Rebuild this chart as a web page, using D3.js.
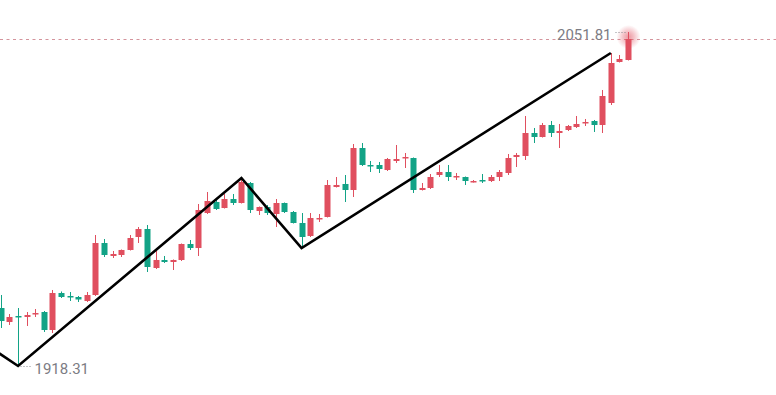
<!DOCTYPE html>
<html>
<head>
<meta charset="utf-8">
<script src="https://cdn.jsdelivr.net/npm/d3@7"></script>
<style>
  html, body { margin: 0; padding: 0; background: #fff; }
  svg { display: block; }
</style>
</head>
<body>
<div id="chart"></div>
<script>
// candle values (one per bar, left to right)
const opens = [1941.49, 1935.90, 1938.30, 1937.90, 1938.89, 1939.89, 1932.70, 1947.49, 1946.29, 1945.89,
  1944.29, 1946.69, 1967.47, 1962.28, 1962.68, 1964.68, 1969.87, 1973.07, 1957.48, 1960.68,
  1959.88, 1960.68, 1967.07, 1965.47, 1979.46, 1983.86, 1981.46, 1985.06, 1983.46, 1991.45,
  1980.26, 1981.86, 1979.06, 1983.46, 1979.86, 1975.47, 1970.27, 1977.07, 1977.87, 1989.86,
  1991.06, 1988.66, 2005.44, 1998.65, 1998.65, 1996.65, 2000.25, 2001.25, 2001.45, 1988.66,
  1989.46, 1994.65, 1995.85, 1993.85, 1993.85, 1991.85, 1992.65, 1992.25, 1993.85, 1995.45,
  2001.85, 2002.25, 2011.44, 2009.84, 2014.64, 2011.44, 2012.64, 2013.84, 2015.24, 2016.24,
  2014.64, 2023.43, 2039.82, 2040.62];
const highs = [1946.69, 1939.09, 1941.49, 1939.89, 1941.09, 1940.29, 1948.69, 1948.09, 1947.89, 1946.29,
  1947.89, 1970.67, 1969.07, 1964.28, 1964.87, 1970.67, 1973.87, 1974.67, 1964.28, 1962.28,
  1960.88, 1967.27, 1968.67, 1983.06, 1987.86, 1984.66, 1987.06, 1987.06, 1993.45, 1991.85,
  1982.06, 1982.66, 1985.06, 1983.66, 1980.26, 1979.46, 1979.46, 1979.06, 1992.65, 1993.85,
  1994.65, 2007.04, 2007.44, 2000.25, 1999.85, 2001.45, 2006.64, 2003.45, 2001.65, 1991.45,
  1995.05, 1998.65, 1998.65, 1995.45, 1994.05, 1992.65, 1995.05, 1994.65, 1996.65, 2003.05,
  2003.45, 2018.24, 2013.44, 2015.44, 2016.24, 2015.04, 2014.64, 2018.24, 2017.04, 2016.64,
  2028.63, 2043.42, 2042.62, 2051.81];
const lows = [1933.50, 1934.70, 1918.31, 1934.30, 1937.90, 1931.90, 1931.50, 1945.49, 1944.29, 1943.89,
  1943.89, 1946.29, 1961.88, 1961.48, 1961.88, 1964.48, 1967.47, 1955.88, 1957.08, 1959.48,
  1956.68, 1960.28, 1964.68, 1962.28, 1979.06, 1980.66, 1981.26, 1982.66, 1983.26, 1979.46,
  1978.66, 1978.66, 1973.87, 1979.46, 1975.27, 1965.47, 1969.87, 1975.87, 1977.67, 1989.66,
  1983.86, 1985.86, 1998.25, 1995.85, 1995.45, 1996.25, 1999.45, 1997.45, 1987.46, 1988.46,
  1989.06, 1993.85, 1992.25, 1992.65, 1990.66, 1991.65, 1991.45, 1991.85, 1992.25, 1994.65,
  1997.85, 2000.65, 2007.44, 2009.64, 2009.84, 2005.44, 2012.24, 2013.44, 2014.24, 2011.84,
  2011.44, 2022.63, 2039.62, 2040.42];
const closes = [1936.30, 1937.90, 1937.70, 1938.69, 1939.49, 1932.70, 1947.49, 1945.89, 1945.69, 1944.89,
  1946.69, 1967.47, 1962.68, 1963.08, 1964.68, 1969.47, 1973.07, 1957.88, 1960.68, 1959.88,
  1960.68, 1967.07, 1965.47, 1980.66, 1984.26, 1981.06, 1985.06, 1983.46, 1991.85, 1980.66,
  1981.86, 1979.46, 1983.46, 1979.86, 1975.47, 1969.87, 1977.47, 1977.47, 1990.66, 1990.66,
  1988.66, 2005.44, 1998.65, 1998.05, 1997.05, 2001.05, 2001.05, 2001.85, 1988.66, 1989.46,
  1993.85, 1995.85, 1993.85, 1994.25, 1992.25, 1992.25, 1992.25, 1993.85, 1995.85, 2001.45,
  2002.65, 2011.44, 2009.84, 2014.64, 2011.44, 2012.24, 2014.24, 2015.04, 2015.84, 2014.64,
  2026.23, 2039.42, 2041.02, 2049.01];

// zigzag turning points (bar index, price); the first one sits off the left edge
const pivotIndex = [-1, 2, 28, 35, 71];
const pivotPrice = [1925.2, 1918.31, 1993.45, 1965.47, 2043.42];

const WIDTH = 776;
const HEIGHT = 395;
const UP = '#e04f5f';
const DOWN = '#12a386';

const candles = opens.map((o, i) => ({
  i: i, open: o, high: highs[i], low: lows[i], close: closes[i]
}));

const x = d3.scaleLinear().domain([0, candles.length - 1]).range([0.9, 628]);
const y = d3.scaleLinear().domain([1918.31, 2051.81]).range([366, 32]);
const bodyW = 6;

const svg = d3.select('#chart')
  .append('svg')
  .attr('width', WIDTH)
  .attr('height', HEIGHT);

const defs = svg.append('defs');
const glow = defs.append('radialGradient').attr('id', 'glow');
glow.append('stop').attr('offset', '0%').attr('stop-color', UP).attr('stop-opacity', 0.6);
glow.append('stop').attr('offset', '45%').attr('stop-color', UP).attr('stop-opacity', 0.35);
glow.append('stop').attr('offset', '100%').attr('stop-color', UP).attr('stop-opacity', 0);

// last price line
const last = candles[candles.length - 1];
svg.append('line')
  .attr('x1', 0)
  .attr('x2', WIDTH)
  .attr('y1', Math.round(y(last.close)) + 0.5)
  .attr('y2', Math.round(y(last.close)) + 0.5)
  .attr('stroke', '#d4949c')
  .attr('stroke-width', 1)
  .attr('stroke-dasharray', '3,3.5');

const cx = d => Math.round(x(d.i)) + 0.5;
const color = d => d.close >= d.open ? UP : DOWN;

const g = svg.append('g');

// wicks
g.selectAll('line.wick')
  .data(candles)
  .enter()
  .append('line')
  .attr('class', 'wick')
  .attr('x1', cx)
  .attr('x2', cx)
  .attr('y1', d => y(d.high))
  .attr('y2', d => y(d.low))
  .attr('stroke', color)
  .attr('stroke-width', 1);

// bodies
g.selectAll('rect')
  .data(candles)
  .enter()
  .append('rect')
  .attr('x', d => cx(d) - bodyW / 2)
  .attr('y', d => y(Math.max(d.open, d.close)))
  .attr('width', bodyW)
  .attr('height', d => Math.max(1.5, Math.abs(y(d.open) - y(d.close))))
  .attr('fill', color);

// glow on the last bar
svg.append('circle')
  .attr('cx', cx(last))
  .attr('cy', y(last.close) - 2)
  .attr('r', 12)
  .attr('fill', 'url(#glow)');

// zigzag
const pivots = pivotIndex.map((p, k) => ({ i: p, price: pivotPrice[k] }));
svg.append('path')
  .datum(pivots)
  .attr('fill', 'none')
  .attr('stroke', '#000')
  .attr('stroke-width', 2.6)
  .attr('stroke-linejoin', 'miter')
  .attr('d', d3.line().x(d => x(d.i)).y(d => y(d.price)));

// max / min labels
const maxBar = candles.reduce((a, b) => b.high > a.high ? b : a);
const minBar = candles.reduce((a, b) => b.low < a.low ? b : a);

function label(bar, price, side) {
  const px = cx(bar);
  const py = Math.round(y(price)) + 0.5;
  const x1 = side === 'left' ? px - 3 : px + 2;
  const x2 = side === 'left' ? px - 14 : px + 13;
  svg.append('line')
    .attr('x1', x1).attr('x2', x2)
    .attr('y1', py).attr('y2', py)
    .attr('stroke', '#8a8a90')
    .attr('stroke-width', 1)
    .attr('stroke-dasharray', '1,2');
  svg.append('text')
    .attr('x', side === 'left' ? x2 - 3 : x2 + 3)
    .attr('y', py + 7.5)
    .attr('text-anchor', side === 'left' ? 'end' : 'start')
    .attr('font-family', 'Roboto, "Open Sans", sans-serif')
    .attr('font-size', 15)
    .attr('fill', '#7c7c84')
    .text(d3.format('.2f')(price));
}

label(maxBar, maxBar.high, 'left');
label(minBar, minBar.low, 'right');
</script>
</body>
</html>
